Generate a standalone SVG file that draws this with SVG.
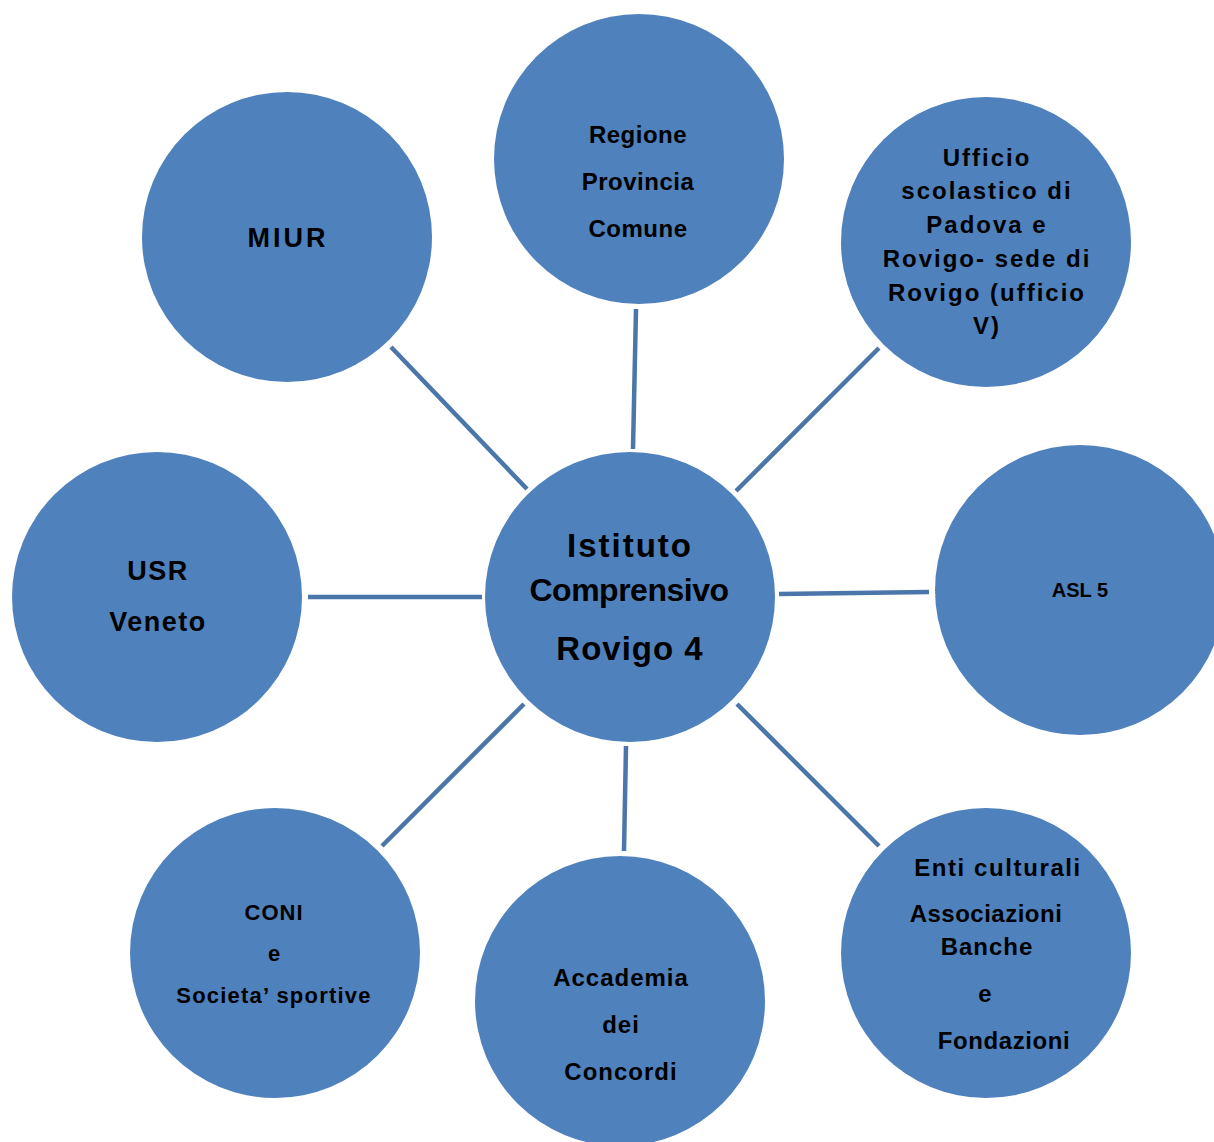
<svg xmlns="http://www.w3.org/2000/svg" width="1214" height="1142" viewBox="0 0 1214 1142">
<style>
.n{fill:#4f81bd}
.t{font-family:"Liberation Sans",Arial,sans-serif;font-weight:bold;fill:#000;text-anchor:middle}
.c line{stroke:#4a76aa;stroke-width:4.5}
</style>
<rect width="1214" height="1142" fill="#fff"/>
<g class="c" id="connectors">
<line x1="391" y1="347" x2="527" y2="489"/>
<line x1="636" y1="309" x2="633" y2="449"/>
<line x1="879" y1="348" x2="736" y2="491"/>
<line x1="779" y1="594" x2="929" y2="592"/>
<line x1="308" y1="597" x2="482" y2="597"/>
<line x1="382" y1="846" x2="524" y2="704"/>
<line x1="626" y1="746" x2="624" y2="851"/>
<line x1="737" y1="704" x2="879" y2="846"/>
</g>
<g id="center">
<circle class="n" cx="630" cy="597" r="145"/>
<text class="t" font-size="33" x="630" y="557" letter-spacing="2">Istituto</text>
<text class="t" font-size="32" x="629" y="601" letter-spacing="-0.5">Comprensivo</text>
<text class="t" font-size="33" x="630" y="660" letter-spacing="1">Rovigo 4</text>
</g>
<g id="miur">
<circle class="n" cx="287" cy="237" r="145"/>
<text class="t" font-size="27" x="288" y="247" letter-spacing="3">MIUR</text>
</g>
<g id="regione">
<circle class="n" cx="639" cy="159" r="145"/>
<text class="t" font-size="24" x="638" y="143" letter-spacing="0.5">Regione</text>
<text class="t" font-size="24" x="638" y="190" letter-spacing="0.5">Provincia</text>
<text class="t" font-size="24" x="638" y="237" letter-spacing="0.5">Comune</text>
</g>
<g id="ufficio">
<circle class="n" cx="986" cy="242" r="145"/>
<text class="t" font-size="24" x="987" y="166" letter-spacing="2">Ufficio</text>
<text class="t" font-size="24" x="987" y="199" letter-spacing="2">scolastico di</text>
<text class="t" font-size="24" x="987" y="233" letter-spacing="2">Padova e</text>
<text class="t" font-size="24" x="987" y="267" letter-spacing="2">Rovigo- sede di</text>
<text class="t" font-size="24" x="987" y="301" letter-spacing="2">Rovigo (ufficio</text>
<text class="t" font-size="24" x="987" y="334" letter-spacing="2">V)</text>
</g>
<g id="asl">
<circle class="n" cx="1080" cy="590" r="145"/>
<text class="t" font-size="20" x="1080" y="597">ASL 5</text>
</g>
<g id="usr">
<circle class="n" cx="157" cy="597" r="145"/>
<text class="t" font-size="27" x="158" y="580" letter-spacing="1.5">USR</text>
<text class="t" font-size="27" x="158" y="631" letter-spacing="1.5">Veneto</text>
</g>
<g id="coni">
<circle class="n" cx="275" cy="953" r="145"/>
<text class="t" font-size="22" x="274" y="920" letter-spacing="1">CONI</text>
<text class="t" font-size="22" x="274" y="961">e</text>
<text class="t" font-size="22" x="274" y="1003" letter-spacing="1.2">Societa’ sportive</text>
</g>
<g id="accademia">
<circle class="n" cx="620" cy="1001" r="145"/>
<text class="t" font-size="24" x="621" y="986" letter-spacing="1">Accademia</text>
<text class="t" font-size="24" x="621" y="1033" letter-spacing="1">dei</text>
<text class="t" font-size="24" x="621" y="1080" letter-spacing="1">Concordi</text>
</g>
<g id="enti">
<circle class="n" cx="986" cy="953" r="145"/>
<text class="t" font-size="24" x="998" y="876" letter-spacing="1.6">Enti culturali</text>
<text class="t" font-size="24" x="986" y="922" letter-spacing="0.5">Associazioni</text>
<text class="t" font-size="24" x="987" y="955" letter-spacing="1">Banche</text>
<text class="t" font-size="24" x="985" y="1002">e</text>
<text class="t" font-size="24" x="1004" y="1049" letter-spacing="0.6">Fondazioni</text>
</g>
</svg>
